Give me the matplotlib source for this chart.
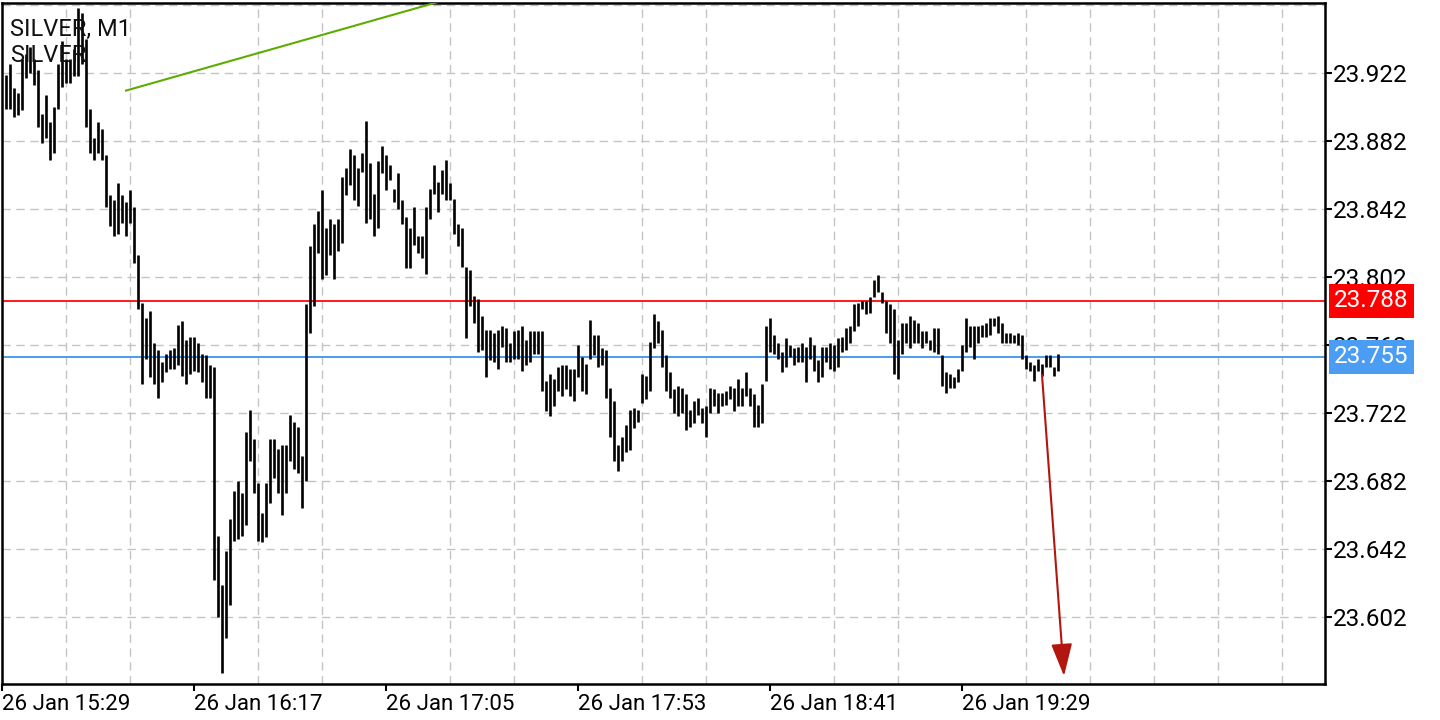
import matplotlib
matplotlib.use("Agg")
import matplotlib.pyplot as plt
import numpy as np

plt.rcParams['font.family'] = ['Roboto', 'DejaVu Sans']

# ---- data: M1 bars (high / low), one per minute starting 26 Jan 15:30 ----
highs = [
    23.921, 23.927, 23.913, 23.910, 23.930, 23.933, 23.937, 23.930, 23.924, 23.898,
    23.909, 23.893, 23.902, 23.927, 23.941, 23.930, 23.930, 23.936, 23.960, 23.957,
    23.942, 23.901, 23.884, 23.893, 23.889, 23.874, 23.850, 23.847, 23.857, 23.850,
    23.846, 23.853, 23.843, 23.815, 23.787, 23.778, 23.782, 23.763, 23.759, 23.752,
    23.757, 23.759, 23.760, 23.774, 23.776, 23.765, 23.767, 23.767, 23.763, 23.757,
    23.756, 23.750, 23.749, 23.650, 23.621, 23.641, 23.660, 23.676, 23.682, 23.675,
    23.711, 23.724, 23.707, 23.681, 23.663, 23.681, 23.707, 23.707, 23.701, 23.703,
    23.703, 23.721, 23.717, 23.714, 23.697, 23.786, 23.820, 23.833, 23.841, 23.853,
    23.831, 23.836, 23.833, 23.836, 23.861, 23.866, 23.877, 23.874, 23.866, 23.875,
    23.894, 23.869, 23.851, 23.870, 23.879, 23.874, 23.868, 23.854, 23.863, 23.847,
    23.837, 23.831, 23.843, 23.826, 23.826, 23.843, 23.854, 23.868, 23.858, 23.865,
    23.871, 23.857, 23.848, 23.833, 23.831, 23.808, 23.806, 23.791, 23.789, 23.779,
    23.771, 23.771, 23.769, 23.771, 23.773, 23.772, 23.763, 23.770, 23.771, 23.773,
    23.765, 23.770, 23.770, 23.770, 23.770, 23.741, 23.745, 23.742, 23.749, 23.750,
    23.750, 23.748, 23.748, 23.762, 23.755, 23.751, 23.777, 23.768, 23.768, 23.760,
    23.759, 23.737, 23.729, 23.703, 23.708, 23.715, 23.724, 23.725, 23.724, 23.745,
    23.744, 23.764, 23.780, 23.776, 23.771, 23.756, 23.746, 23.736, 23.738, 23.737,
    23.733, 23.724, 23.729, 23.731, 23.725, 23.726, 23.737, 23.736, 23.734, 23.734,
    23.735, 23.738, 23.737, 23.742, 23.737, 23.746, 23.737, 23.733, 23.727, 23.739,
    23.773, 23.778, 23.768, 23.763, 23.758, 23.766, 23.762, 23.760, 23.761, 23.763,
    23.761, 23.767, 23.762, 23.753, 23.761, 23.761, 23.763, 23.762, 23.766, 23.767,
    23.772, 23.773, 23.786, 23.787, 23.788, 23.788, 23.790, 23.800, 23.803, 23.793,
    23.788, 23.786, 23.783, 23.765, 23.775, 23.775, 23.779, 23.777, 23.775, 23.770,
    23.770, 23.765, 23.772, 23.772, 23.756, 23.746, 23.745, 23.743, 23.748, 23.762,
    23.778, 23.773, 23.773, 23.773, 23.774, 23.775, 23.778, 23.778, 23.779, 23.775,
    23.769, 23.769, 23.768, 23.769, 23.768, 23.756, 23.752, 23.750, 23.754, 23.751,
    23.756, 23.756, 23.749, 23.757,
]
lows = [
    23.901, 23.901, 23.896, 23.897, 23.900, 23.919, 23.922, 23.915, 23.890, 23.881,
    23.884, 23.871, 23.875, 23.901, 23.914, 23.916, 23.916, 23.920, 23.920, 23.927,
    23.890, 23.875, 23.871, 23.875, 23.871, 23.843, 23.832, 23.826, 23.827, 23.834,
    23.826, 23.834, 23.810, 23.783, 23.739, 23.754, 23.743, 23.739, 23.731, 23.740,
    23.746, 23.748, 23.748, 23.750, 23.744, 23.739, 23.745, 23.747, 23.746, 23.740,
    23.731, 23.731, 23.624, 23.602, 23.569, 23.590, 23.609, 23.647, 23.648, 23.650,
    23.656, 23.694, 23.675, 23.647, 23.646, 23.649, 23.669, 23.684, 23.675, 23.662,
    23.675, 23.694, 23.689, 23.687, 23.666, 23.682, 23.769, 23.785, 23.816, 23.801,
    23.803, 23.815, 23.801, 23.817, 23.822, 23.850, 23.856, 23.847, 23.844, 23.864,
    23.834, 23.836, 23.826, 23.831, 23.863, 23.853, 23.859, 23.846, 23.842, 23.833,
    23.807, 23.807, 23.821, 23.816, 23.813, 23.804, 23.836, 23.851, 23.840, 23.851,
    23.847, 23.847, 23.827, 23.820, 23.808, 23.766, 23.785, 23.775, 23.758, 23.759,
    23.743, 23.753, 23.752, 23.748, 23.761, 23.752, 23.752, 23.754, 23.754, 23.747,
    23.750, 23.752, 23.757, 23.757, 23.735, 23.723, 23.720, 23.726, 23.735, 23.732,
    23.736, 23.732, 23.729, 23.743, 23.735, 23.733, 23.754, 23.756, 23.749, 23.750,
    23.731, 23.708, 23.694, 23.688, 23.694, 23.699, 23.700, 23.713, 23.717, 23.728,
    23.730, 23.735, 23.760, 23.763, 23.749, 23.735, 23.731, 23.722, 23.720, 23.722,
    23.712, 23.714, 23.716, 23.721, 23.716, 23.708, 23.722, 23.726, 23.722, 23.726,
    23.727, 23.730, 23.723, 23.726, 23.726, 23.732, 23.726, 23.714, 23.714, 23.716,
    23.741, 23.758, 23.757, 23.754, 23.746, 23.749, 23.755, 23.750, 23.752, 23.752,
    23.740, 23.754, 23.747, 23.740, 23.743, 23.752, 23.748, 23.747, 23.749, 23.758,
    23.759, 23.763, 23.770, 23.773, 23.783, 23.780, 23.781, 23.790, 23.793, 23.787,
    23.769, 23.763, 23.745, 23.742, 23.757, 23.763, 23.760, 23.763, 23.763, 23.760,
    23.763, 23.759, 23.758, 23.757, 23.738, 23.734, 23.737, 23.737, 23.740, 23.747,
    23.758, 23.761, 23.754, 23.763, 23.767, 23.767, 23.768, 23.773, 23.769, 23.763,
    23.763, 23.763, 23.763, 23.762, 23.754, 23.748, 23.747, 23.741, 23.747, 23.744,
    23.749, 23.749, 23.744, 23.747,
]

symbol_title = "SILVER, M1"
symbol_sub = "SILVER"
x_tick_bars = [-1, 47, 95, 143, 191, 239]
x_tick_labels = ["26 Jan 15:29", "26 Jan 16:17", "26 Jan 17:05",
                 "26 Jan 17:53", "26 Jan 18:41", "26 Jan 19:29"]
y_ticks = [23.602, 23.642, 23.682, 23.722, 23.762, 23.802, 23.842, 23.882, 23.922]
y_grid_extra = [23.962]
level_red = 23.788
level_blue = 23.755
trend_x = [30, 110]
trend_y = [23.9116, 23.965]
arrow_start = (259, 23.7444)
arrow_end = (264.5, 23.5674)

# ---- figure ----
W, H = 1440, 720
fig = plt.figure(figsize=(W / 100, H / 100), dpi=100)
fig.patch.set_facecolor('white')
ax_l, ax_r, ax_t, ax_b = 2, 1325, 3, 684
ax = fig.add_axes([ax_l / W, 1 - ax_b / H, (ax_r - ax_l) / W, (ax_b - ax_t) / H])

xs = np.arange(len(highs))
ax.vlines(xs, lows, highs, color='black', lw=1.9, zorder=3)

ax.set_xlim(-1, 329.75)
ax.set_ylim(23.5627, 23.9631)

# levels
ax.axhline(level_red, color='#ff1a1a', lw=1.4, zorder=2)
ax.axhline(level_blue, color='#4a9df2', lw=1.4, zorder=2)

# trendline
ax.plot(trend_x, trend_y, color='#5cad00', lw=1.5, zorder=4, clip_on=True)

# arrow
ax.annotate('', xy=arrow_end, xytext=arrow_start,
            arrowprops=dict(arrowstyle='-|>,head_length=0.4,head_width=0.13',
                            color='#b3160e', lw=1.5, mutation_scale=50,
                            shrinkA=0, shrinkB=0), zorder=5)

# grid
grid_kw = dict(color='#c4c4c4', lw=1.0, linestyle=(0, (6, 4)))
ax.set_xticks(x_tick_bars)
ax.set_xticks(np.arange(-1, 330, 16), minor=True)
ax.set_xticklabels(x_tick_labels, fontsize=16)
for lab in ax.get_xticklabels():
    lab.set_horizontalalignment('left')
ax.tick_params(axis='x', which='major', direction='out', length=5, width=1.5,
               pad=2, colors='black')
ax.tick_params(axis='x', which='minor', length=0)
ax.xaxis.grid(True, which='minor', **grid_kw)

ax.yaxis.tick_right()
ax.set_yticks(y_ticks)
ax.set_yticklabels([f"{v:.3f}" for v in y_ticks], fontsize=17.5)
ax.set_yticks(y_grid_extra, minor=True)
ax.tick_params(axis='y', which='major', direction='out', length=5, width=1.5,
               pad=0.5, colors='black')
ax.tick_params(axis='y', which='minor', length=0)
ax.yaxis.grid(True, which='both', **grid_kw)
ax.set_axisbelow(True)

for sp in ax.spines.values():
    sp.set_linewidth(1.8)
    sp.set_color('black')

# price labels on right axis
for val, col in [(level_red, '#ff0000'), (level_blue, '#4a9df2')]:
    ax.text(1.0068, val, f"{val:.3f}", transform=ax.get_yaxis_transform(),
            ha='left', va='center', fontsize=17.5, color='white', clip_on=False,
            bbox=dict(boxstyle='square,pad=0.22', facecolor=col, edgecolor='none'),
            zorder=10)

# title text
ax.text(8 / (ax_r - ax_l), 1 - 26 / (ax_b - ax_t), symbol_title, transform=ax.transAxes,
        ha='left', va='center', fontsize=17, color='#111111', zorder=6)
ax.text(8 / (ax_r - ax_l), 1 - 53 / (ax_b - ax_t), symbol_sub, transform=ax.transAxes,
        ha='left', va='center', fontsize=17, color='#111111', zorder=6)

fig.savefig('out.png', dpi=100, facecolor='white')
